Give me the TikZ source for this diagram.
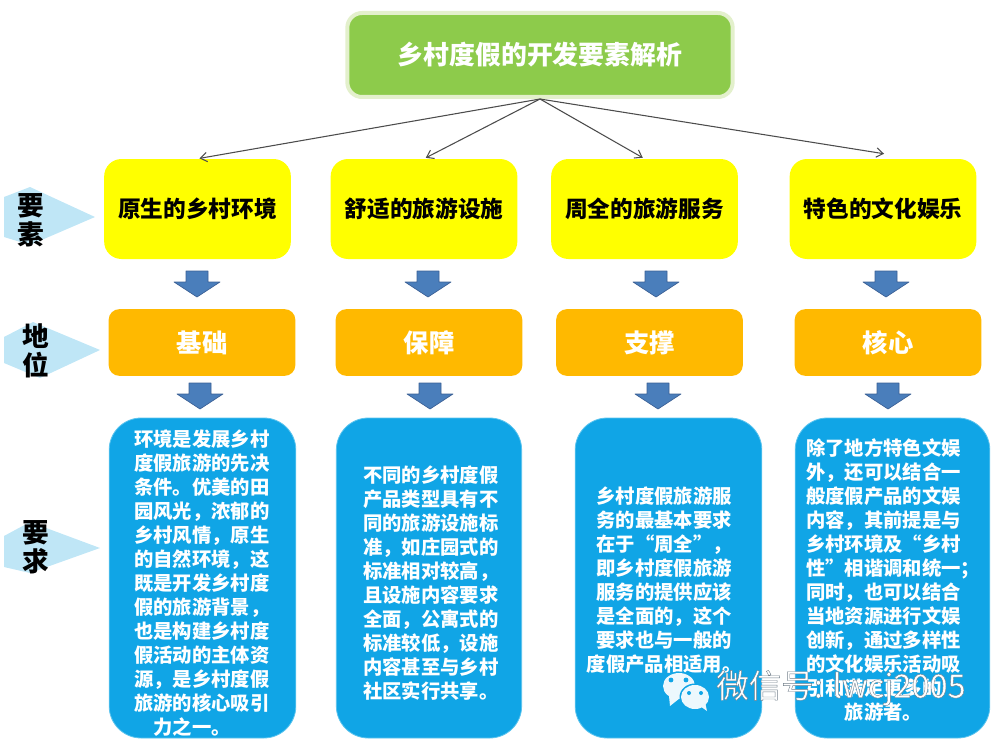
\documentclass[tikz,border=0pt]{standalone}
\usepackage{fontspec}
\setmainfont{Noto Sans CJK SC}
\usetikzlibrary{arrows.meta}
\definecolor{cgreen}{HTML}{8DCB4B}
\definecolor{cgreenb}{HTML}{E3F0CC}
\definecolor{cyellow}{HTML}{FFFF00}
\definecolor{corange}{HTML}{FFB900}
\definecolor{cblue}{HTML}{10A5E6}
\definecolor{cblueb}{HTML}{5CC4EE}
\definecolor{cpale}{HTML}{BFE6F6}
\definecolor{cdown}{HTML}{4A7EBB}
\definecolor{cdownb}{HTML}{3A5F95}
\newcommand{\lowertext}[1]{\raisebox{-1.5pt}{#1}}
\tikzset{
  px/.style={x=0.75pt,y=-0.75pt},
  basebox/.style={rectangle,inner sep=0pt,anchor=center,font=\bfseries},
  titlebox/.style={basebox,fill=cgreen,draw=cgreenb,line width=3pt,rounded corners=11pt,minimum width=289pt,minimum height=63pt,text=white,font=\bfseries\fontsize{19.4}{24}\selectfont},
  elementbox/.style={basebox,fill=cyellow,rounded corners=13pt,minimum width=140pt,minimum height=75pt,text=black,font=\bfseries\fontsize{17}{20}\selectfont},
  rolebox/.style={basebox,fill=corange,rounded corners=8pt,minimum width=140pt,minimum height=50pt,text=white,font=\bfseries\fontsize{19}{22}\selectfont},
  reqbox/.style={basebox,fill=cblue,draw=cblueb,line width=0.6pt,rounded corners=24pt,minimum height=240pt},
  reqtext/.style={inner sep=0pt,text=white,font=\bfseries\fontsize{14.5}{18}\selectfont},
  sidetext/.style={inner sep=0pt,text=black,align=center,font=\bfseries\fontsize{20}{22}\selectfont},
  sidearrow/.style={fill=cpale},
  link/.style={draw=black!70,line width=0.8pt,-{Straight Barb[length=5pt,width=7pt]},shorten >=1.5pt},
  downarrow/.style={fill=cdown,draw=cdownb,line width=0.5pt,line join=round},
}
\newcommand{\dnarrow}[2]{%
  \draw[downarrow] (#1-11,#2) -- (#1+11,#2) -- (#1+11,#2+11) -- (#1+23,#2+11) -- (#1,#2+26) -- (#1-23,#2+11) -- (#1-11,#2+11) -- cycle;}
\begin{document}
\begin{tikzpicture}[px]
\useasboundingbox (0,0) rectangle (1000,742);
% title
\node[titlebox] (title) at (540,55) {\lowertext{乡村度假的开发要素解析}};
% elements
\node[elementbox] (e1) at (197.5,209) {\lowertext{原生的乡村环境}};
\node[elementbox] (e2) at (424,209) {\lowertext{舒适的旅游设施}};
\node[elementbox] (e3) at (644.5,209) {\lowertext{周全的旅游服务}};
\node[elementbox] (e4) at (883,209) {\lowertext{特色的文化娱乐}};
% connectors
\draw[link] (title.south) -- (e1.north);
\draw[link] (title.south) -- (e2.north);
\draw[link] (title.south) -- (e3.north);
\draw[link] (title.south) -- ([xshift=2.25pt,yshift=3.5pt]e4.north);
% roles
\node[rolebox] (r1) at (202,342.5) {基础};
\node[rolebox] (r2) at (429,342.5) {保障};
\node[rolebox] (r3) at (649.5,342.5) {支撑};
\node[rolebox] (r4) at (888,342.5) {核心};
% requirement boxes
\node[reqbox,minimum width=140pt] (q1) at (202.5,578) {};
\node[reqbox,minimum width=139pt] (q2) at (429,578) {};
\node[reqbox,minimum width=140pt] (q3) at (668.5,578) {};
\node[reqbox,minimum width=146pt] (q4) at (892.5,578) {};
% requirement text
\node[reqtext,anchor=west,align=left] (t1) at (134,583) {环境是发展乡村\\度假旅游的先决\\条件。优美的田\\园风光，浓郁的\\乡村风情，原生\\的自然环境，这\\既是开发乡村度\\假的旅游背景，\\也是构建乡村度\\假活动的主体资\\源，是乡村度假\\旅游的核心吸引\\\hspace*{1em}力之一。};
\node[reqtext,anchor=west,align=left] (t2) at (363,583) {不同的乡村度假\\产品类型具有不\\同的旅游设施标\\准，如庄园式的\\标准相对较高，\\且设施内容要求\\全面，公寓式的\\标准较低，设施\\内容甚至与乡村\\社区实行共享。};
\node[reqtext,align=center] (t3) at (664,580) {乡村度假旅游服\\务的最基本要求\\在于“周全”，\\即乡村度假旅游\\服务的提供应该\\是全面的，这个\\要求也与一般的\\度假产品相适用。};
\node[reqtext,anchor=west,align=left] (t4) at (806,580) {除了地方特色文娱\\外，还可以结合一\\般度假产品的文娱\\内容，其前提是与\\乡村环境及“乡村\\性”相谐调和统一；\\同时，也可以结合\\当地资源进行文娱\\创新，通过多样性\\的文化娱乐活动吸\\引和满足更多的\\\hspace*{29pt}旅游者。};
% down arrows
\dnarrow{197}{271}\dnarrow{428}{271}\dnarrow{656}{271}\dnarrow{886}{271}
\dnarrow{200}{383}\dnarrow{430}{383}\dnarrow{658}{383}\dnarrow{888}{383}
% side arrows
\fill[sidearrow] (4,197) -- (30,187) -- (95,217) -- (30,245) -- (4,237) -- cycle;
\fill[sidearrow] (4,337) -- (33,322) -- (100,350) -- (40,378) -- (4,363) -- cycle;
\fill[sidearrow] (4,536) -- (30,522) -- (100,548) -- (30,573) -- (4,567) -- cycle;
\node[sidetext] (s1) at (31,220) {要\\素};
\node[sidetext] (s2) at (36,351) {地\\位};
\node[sidetext] (s3) at (36,547) {要\\求};
% watermark
\fill[fill=cblue] (679,686) ellipse [x radius=17.5,y radius=14.5];
\fill[fill=white!92!cblue] (679,686) ellipse [x radius=16,y radius=13];
\fill[fill=white!92!cblue] (669,696) -- (670,706) -- (680,698) -- cycle;
\fill[fill=cblue] (695,697) ellipse [x radius=15.5,y radius=13.5];
\fill[fill=white!92!cblue] (695,697) ellipse [x radius=14,y radius=12];
\fill[fill=white!92!cblue] (700,706) -- (707,711) -- (705,702) -- cycle;
\fill[cblue] (671,680) circle [radius=2.4] (686,680) circle [radius=2.4] (689,693) circle [radius=2] (701,693) circle [radius=2];
\node[inner sep=0pt,anchor=west,text=white,font=\fontsize{24.4}{28}\selectfont] (wm) at (716,688) {\special{pdf:code q 2 Tr 0.3 w 0.45 0.5 0.55 RG}微信号: lwcj2005\special{pdf:code Q}};
\end{tikzpicture}
\end{document}
